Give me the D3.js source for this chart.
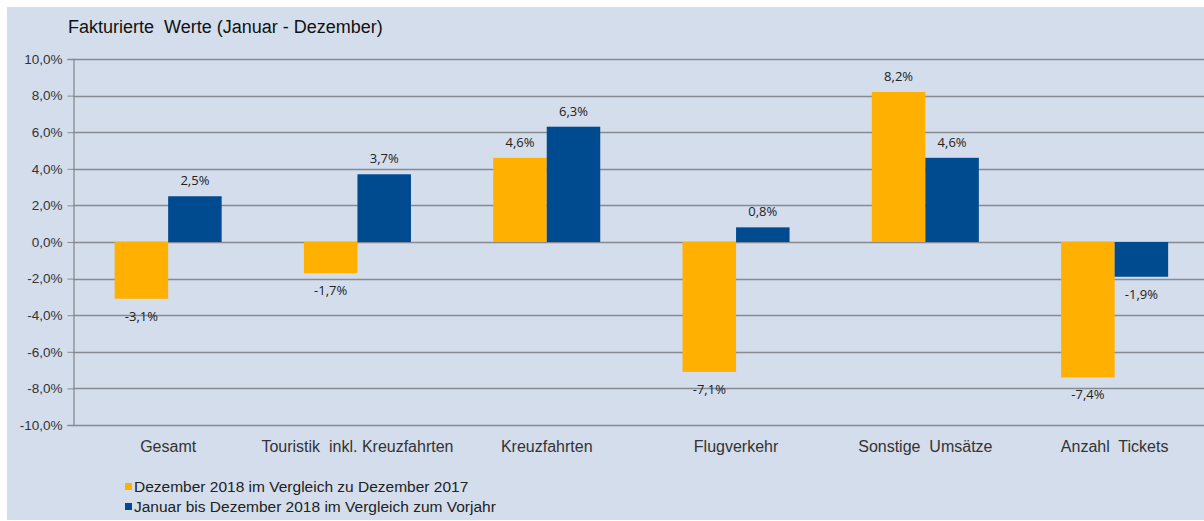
<!DOCTYPE html>
<html>
<head>
<meta charset="utf-8">
<script src="https://cdn.jsdelivr.net/npm/d3@7"></script>
<style>
  body { margin: 0; background: #fff; }
  svg { display: block; }
</style>
</head>
<body>
<div id="container"></div>
<script>
(function(){

  // data
  var categories = ["Gesamt", "Touristik  inkl. Kreuzfahrten", "Kreuzfahrten", "Flugverkehr", "Sonstige  Umsätze", "Anzahl  Tickets"]
  var seriesNames = ["Dezember 2018 im Vergleich zu Dezember 2017", "Januar bis Dezember 2018 im Vergleich zum Vorjahr"]
  var dezember = [-3.1, -1.7, 4.6, -7.1, 8.2, -7.4]
  var jahr = [2.5, 3.7, 6.3, 0.8, 4.6, -1.9]
  var yTicks = [-10, -8, -6, -4, -2, 0, 2, 4, 6, 8, 10]
  var colors = ["#FFB000", "#004A8F"]

  var width = 1204, height = 521
  var fmt = function(d){ return d3.format(".1f")(d).replace(".", ",").replace("−", "-") + "%" }

  var svg = d3.select("#container")
    .append("svg")
      .attr("width", width)
      .attr("height", height)

  // background panel
  svg.append("rect")
    .attr("x", 7).attr("y", 7)
    .attr("width", width - 7).attr("height", 513)
    .attr("fill", "#D3DDEC")

  svg.append("text")
    .attr("x", 68).attr("y", 33)
    .attr("font-family", "Arial, 'Liberation Sans', sans-serif")
    .attr("font-size", 18)
    .attr("fill", "#111")
    .attr("xml:space", "preserve")
    .text("Fakturierte  Werte (Januar - Dezember)")

  var x0 = d3.scaleBand()
    .domain(categories)
    .range([73.5, 73.5 + 6 * 189.3])
    .paddingInner(0)
    .paddingOuter(0)

  var x1 = d3.scaleBand()
    .domain([0, 1])
    .range([x0.bandwidth() / 2 - 53.5, x0.bandwidth() / 2 + 53.5])

  var y = d3.scaleLinear()
    .domain([-10, 10])
    .range([425, 59])

  // gridlines
  svg.append("g")
    .selectAll("line")
    .data(yTicks)
    .enter().append("line")
      .attr("x1", 73).attr("x2", width)
      .attr("y1", function(d){ return Math.round(y(d)) + 0.5 })
      .attr("y2", function(d){ return Math.round(y(d)) + 0.5 })
      .attr("stroke", "#878B91")
      .attr("stroke-width", 1.3)

  // y axis
  var yAxis = svg.append("g")
    .attr("transform", "translate(73.5,0)")
    .call(d3.axisLeft(y)
      .tickValues(yTicks)
      .tickSize(6)
      .tickPadding(5)
      .tickFormat(fmt))
  yAxis.select(".domain").attr("stroke", "#878B91").attr("stroke-width", 1.3)
  yAxis.selectAll(".tick line").attr("stroke", "#878B91")
  yAxis.selectAll(".tick text")
    .attr("font-family", "Arial, 'Liberation Sans', sans-serif")
    .attr("font-size", 13.5)
    .attr("fill", "#333")

  // bars
  var groups = svg.append("g")
    .selectAll("g")
    .data(categories)
    .enter().append("g")
      .attr("transform", function(d){ return "translate(" + x0(d) + ",0)" })

  groups.each(function(c, i){
    var vals = [dezember[i], jahr[i]]
    var g = d3.select(this)
    g.selectAll("rect")
      .data(vals)
      .enter().append("rect")
        .attr("x", function(d, j){ return x1(j) })
        .attr("width", x1.bandwidth())
        .attr("y", function(d){ return y(Math.max(0, d)) })
        .attr("height", function(d){ return Math.abs(y(d) - y(0)) })
        .attr("fill", function(d, j){ return colors[j] })

    g.selectAll("text.val")
      .data(vals)
      .enter().append("text")
        .attr("class", "val")
        .attr("x", function(d, j){ return x1(j) + x1.bandwidth() / 2 })
        .attr("y", function(d){ return d >= 0 ? y(d) - 11 : y(d) + 22 })
        .attr("text-anchor", "middle")
        .attr("font-family", "'Open Sans', sans-serif")
        .attr("font-size", 13)
        .attr("fill", "#222")
        .text(fmt)
  })

  // category labels
  svg.append("g")
    .selectAll("text")
    .data(categories)
    .enter().append("text")
      .attr("x", function(d){ return x0(d) + x0.bandwidth() / 2 })
      .attr("y", 452)
      .attr("text-anchor", "middle")
      .attr("xml:space", "preserve")
      .attr("font-family", "Arial, 'Liberation Sans', sans-serif")
      .attr("font-size", 16)
      .attr("fill", "#333")
      .text(function(d){ return d })

  // legend
  var legend = svg.append("g")
    .selectAll("g")
    .data(seriesNames)
    .enter().append("g")
      .attr("transform", function(d, i){ return "translate(125," + (487 + i * 20) + ")" })
  legend.append("rect")
    .attr("x", 0).attr("y", -4)
    .attr("width", 7).attr("height", 7)
    .attr("fill", function(d, i){ return colors[i] })
  legend.append("text")
    .attr("x", 9).attr("y", 0)
    .attr("dy", "0.35em")
    .attr("font-family", "Arial, 'Liberation Sans', sans-serif")
    .attr("font-size", 15.5)
    .attr("fill", "#222")
    .text(function(d){ return d })

})()
</script>
</body>
</html>
